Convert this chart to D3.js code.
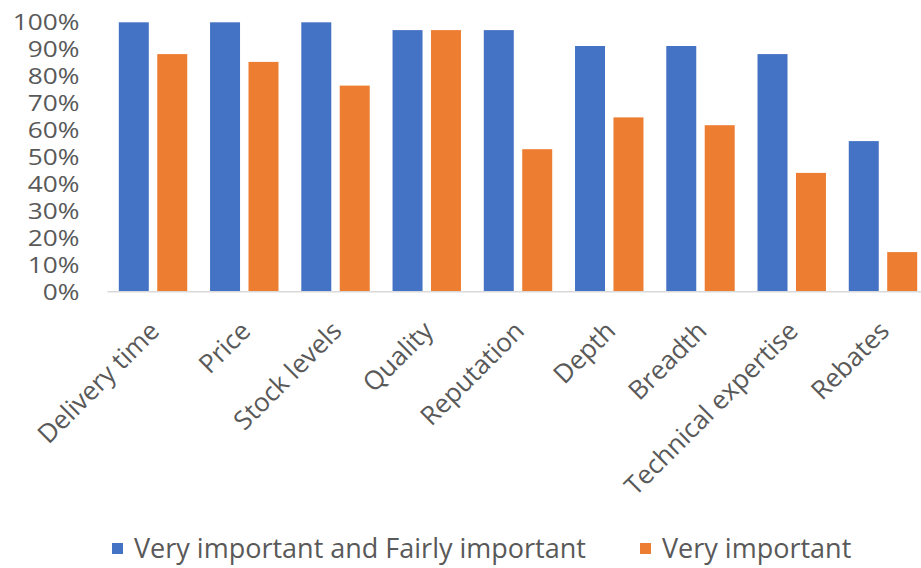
<!DOCTYPE html>
<html>
<head>
<meta charset="utf-8">
<script src="https://cdn.jsdelivr.net/npm/d3@7"></script>
<style>
  html, body { margin: 0; padding: 0; background: #fff; }
  svg { display: block; }
  text { font-family: "Open Sans", "Noto Sans", sans-serif; fill: #595959; }
</style>
</head>
<body>
<svg id="chart" width="921" height="568"></svg>
<script>
// ---- data ----
const categories = ["Delivery time", "Price", "Stock levels", "Quality", "Reputation", "Depth", "Breadth", "Technical expertise", "Rebates"];
const seriesNames = ["Very important and Fairly important", "Very important"];
const veryOrFairly = [1.00, 1.00, 1.00, 0.971, 0.971, 0.912, 0.912, 0.882, 0.559];
const veryImportant = [0.882, 0.853, 0.765, 0.971, 0.529, 0.647, 0.618, 0.441, 0.147];
const yTicks = [0, 0.1, 0.2, 0.3, 0.4, 0.5, 0.6, 0.7, 0.8, 0.9, 1.0];
const colors = ["#4472C4", "#ED7D31"];

const svg = d3.select("#chart");
const plot = { left: 107.4, right: 928.6, top: 22.3, bottom: 291.7 };

const x = d3.scaleBand().domain(categories).range([plot.left, plot.right]).paddingInner(0.25).paddingOuter(0.125);
const xs = d3.scaleBand().domain(seriesNames).range([0, x.bandwidth()]).paddingInner(0.22);
const y = d3.scaleLinear().domain([0, 1]).range([plot.bottom, plot.top]);

const rows = categories.map((c, i) => ({ cat: c, vals: [veryOrFairly[i], veryImportant[i]] }));

// bars
const g = svg.append("g");
g.selectAll("g.grp").data(rows).join("g")
  .attr("class", "grp")
  .attr("transform", d => `translate(${x(d.cat)},0)`)
  .selectAll("rect").data(d => d.vals.map((v, j) => ({ v, s: seriesNames[j], j })))
  .join("rect")
  .attr("x", d => xs(d.s))
  .attr("width", xs.bandwidth())
  .attr("y", d => y(d.v))
  .attr("height", d => y(0) - y(d.v))
  .attr("fill", d => colors[d.j]);

// baseline
svg.append("line")
  .attr("x1", plot.left).attr("x2", 921)
  .attr("y1", y(0)).attr("y2", y(0))
  .attr("stroke", "#d9d9d9").attr("stroke-width", 1.5);

// y axis
const yAxis = d3.axisLeft(y).tickValues(yTicks).tickFormat(d3.format(".0%")).tickSize(0).tickPadding(0);
const ya = svg.append("g").attr("transform", `translate(${plot.left},0)`).call(yAxis);
ya.select(".domain").remove();
ya.selectAll("text")
  .attr("x", 0)
  .attr("dy", "0.36em")
  .attr("transform", "translate(-28,0) scale(1.25,1)")
  .attr("font-size", 21)
  .attr("font-family", "'Liberation Sans', Arial, sans-serif")
  .style("fill", "#595959");

// x labels
svg.append("g").selectAll("text").data(categories).join("text")
  .attr("transform", d => `translate(${x(d) + x.bandwidth() / 2 - 5},${plot.bottom + 28}) rotate(-45)`)
  .attr("text-anchor", "end")
  .attr("font-size", 26)
  .attr("dy", "0.7em")
  .text(d => d);

// legend
const legendX = [112, 640];
const lg = svg.append("g").selectAll("g").data(seriesNames).join("g")
  .attr("transform", (d, i) => `translate(${legendX[i]},549)`);
lg.append("rect").attr("x", 0).attr("y", -6).attr("width", 11).attr("height", 11).attr("fill", (d, i) => colors[i]);
lg.append("text").attr("x", 22).attr("dy", "0.35em").attr("font-size", 27).text(d => d);
</script>
</body>
</html>
